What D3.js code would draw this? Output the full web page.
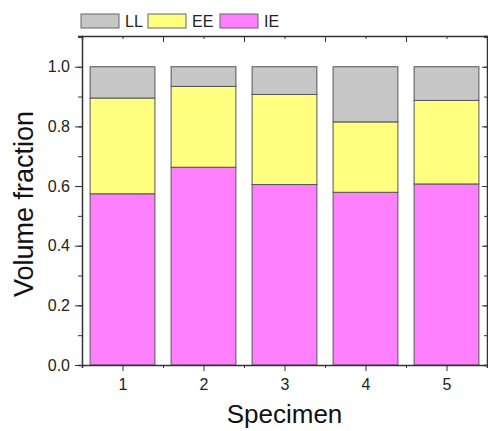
<!DOCTYPE html>
<html>
<head>
<meta charset="utf-8">
<script src="https://cdn.jsdelivr.net/npm/d3@7"></script>
<style>
  body { margin: 0; background: #fff; }
  svg { display: block; font-family: "Liberation Sans", Arial, sans-serif; }
  .axis path, .axis line { stroke: #333; }
  .axis text { fill: #222; }
</style>
</head>
<body>
<div id="chart"></div>
<script>
// data
var specimens = [1, 2, 3, 4, 5];
var seriesNames = ["IE", "EE", "LL"];
var IE = [0.574, 0.663, 0.605, 0.579, 0.607];
var EE = [0.321, 0.271, 0.302, 0.236, 0.280];
var LL = [0.105, 0.066, 0.093, 0.185, 0.113];
var yTicks = [0.0, 0.2, 0.4, 0.6, 0.8, 1.0];
var colors = { IE: "#ff80ff", EE: "#ffff80", LL: "#c6c6c6" };
var legendOrder = ["LL", "EE", "IE"];

var width = 488, height = 431;
var margin = { top: 36, right: 1, bottom: 66, left: 82 };

var svg = d3.select("#chart").append("svg")
    .attr("width", width)
    .attr("height", height);

var x = d3.scaleLinear()
    .domain([0.5, 5.5])
    .range([margin.left, width - margin.right]);
var y = d3.scaleLinear()
    .domain([0, 1.103])
    .range([height - margin.bottom, margin.top]);

// build rows for the stack
var table = specimens.map(function(s, i) {
    return { specimen: s, IE: IE[i], EE: EE[i], LL: LL[i] };
});
var stacked = d3.stack().keys(seriesNames)(table);

var barW = x(0.8) - x(0);

svg.append("g").selectAll("g")
    .data(stacked)
    .enter().append("g")
    .attr("fill", function(d) { return colors[d.key]; })
    .selectAll("rect")
    .data(function(d) { return d; })
    .enter().append("rect")
    .attr("x", function(d) { return x(d.data.specimen) - barW / 2; })
    .attr("y", function(d) { return y(d[1]); })
    .attr("width", barW)
    .attr("height", function(d) { return y(d[0]) - y(d[1]); })
    .attr("stroke", "#555")
    .attr("stroke-width", 1);

var halfTicks = [0.5, 1.5, 2.5, 3.5, 4.5, 5.5];
var minorY = d3.range(0, 1.11, 0.1);

// bottom axis
var bottomAx = svg.append("g").attr("class", "axis")
    .attr("transform", "translate(0," + y(0) + ")");
bottomAx.call(d3.axisBottom(x).tickValues(halfTicks).tickSize(3).tickFormat(""));
bottomAx.append("g").call(d3.axisBottom(x).tickValues(specimens).tickSize(6).tickPadding(8).tickFormat(d3.format("d")))
    .call(function(g) { g.select(".domain").remove(); })
    .selectAll("text").attr("font-size", 16);

// left axis
var leftAx = svg.append("g").attr("class", "axis")
    .attr("transform", "translate(" + x(0.5) + ",0)");
leftAx.call(d3.axisLeft(y).tickValues(minorY).tickSize(4).tickFormat(""));
leftAx.append("g").call(d3.axisLeft(y).tickValues(yTicks).tickSize(7).tickPadding(5).tickFormat(d3.format(".1f")))
    .call(function(g) { g.select(".domain").remove(); })
    .selectAll("text").attr("font-size", 16);

// top axis (ticks inward)
var topAx = svg.append("g").attr("class", "axis")
    .attr("transform", "translate(0," + margin.top + ")");
topAx.call(d3.axisTop(x).tickValues(specimens).tickSize(-3).tickFormat(""));
topAx.append("g").call(d3.axisTop(x).tickValues(halfTicks.slice(1, 5)).tickSize(-6).tickFormat(""))
    .call(function(g) { g.select(".domain").remove(); });

// right axis (ticks inward)
var rightAx = svg.append("g").attr("class", "axis")
    .attr("transform", "translate(" + x(5.5) + ",0)");
rightAx.call(d3.axisRight(y).tickValues(minorY).tickSize(-3).tickFormat(""));
rightAx.append("g").call(d3.axisRight(y).tickValues(yTicks).tickSize(-5).tickFormat(""))
    .call(function(g) { g.select(".domain").remove(); });

svg.selectAll(".axis .domain").attr("stroke-width", 1.5);

// axis titles
svg.append("text")
    .attr("x", x(3))
    .attr("y", 423)
    .attr("text-anchor", "middle")
    .attr("font-size", 26)
    .attr("fill", "#111")
    .text("Specimen");

svg.append("text")
    .attr("transform", "translate(33," + y(0.54) + ") rotate(-90)")
    .attr("text-anchor", "middle")
    .attr("font-size", 27)
    .attr("fill", "#111")
    .text("Volume fraction");

// legend
var legendX = [81, 148, 220];
var legend = svg.append("g").selectAll("g")
    .data(legendOrder)
    .enter().append("g")
    .attr("transform", function(d, i) { return "translate(" + legendX[i] + ",14)"; });
legend.append("rect")
    .attr("width", 38)
    .attr("height", 14)
    .attr("fill", function(d) { return colors[d]; })
    .attr("stroke", "#666")
    .attr("stroke-width", 1);
legend.append("text")
    .attr("x", 44)
    .attr("y", 13)
    .attr("font-size", 16)
    .attr("fill", "#222")
    .text(function(d) { return d; });
</script>
</body>
</html>
